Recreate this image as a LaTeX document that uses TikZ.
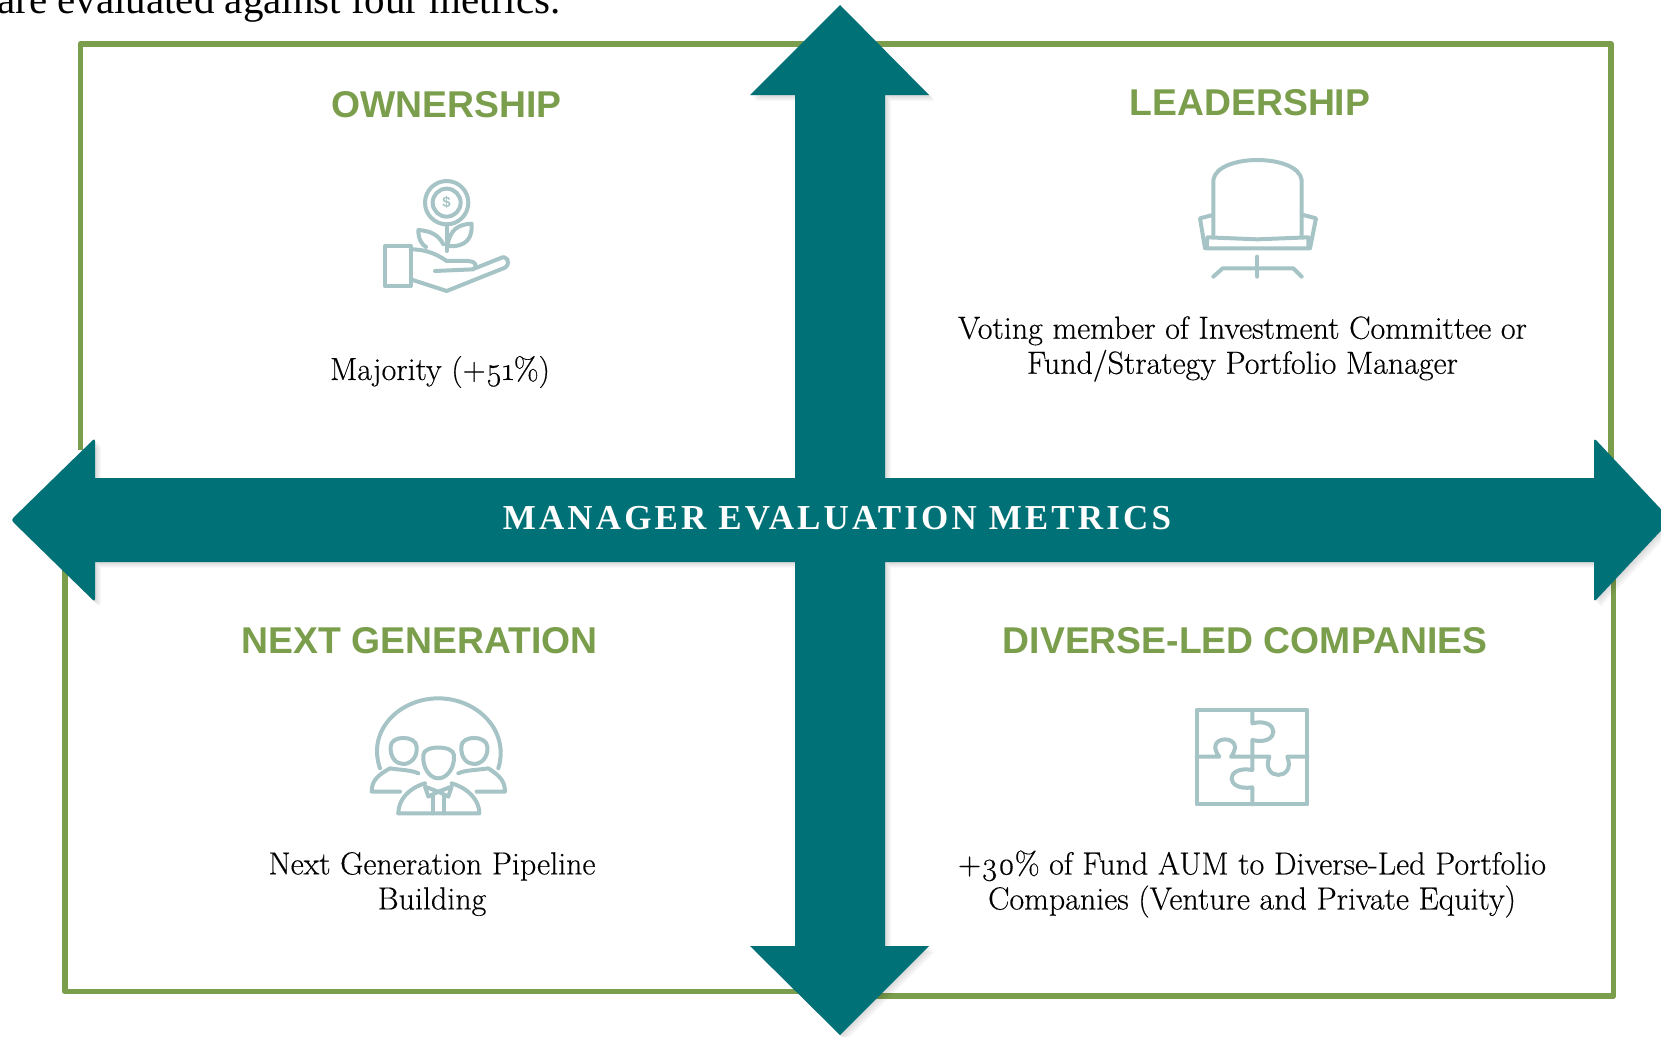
\documentclass[tikz,border=0pt]{standalone}
\usepackage{fontspec}
\usepackage{tikz}
\setmainfont{Liberation Serif}
\newfontfamily\titlefont{Liberation Sans}
\newfontfamily\bodyfont[Numbers=OldStyle,FakeBold=0.35]{Latin Modern Roman}
\newfontfamily\bannerfont[LetterSpace=9]{Liberation Serif}
\definecolor{framegreen}{HTML}{7A9E4B}
\definecolor{crossteal}{HTML}{007176}
\definecolor{iconblue}{HTML}{A6C4C5}
\newcommand{\crossoutline}{(840,5) -- (929,95) -- (885,95) -- (885,478) -- (1594,478) [rounded corners=3pt] -- (1594,438) -- (1671,520) -- (1594,602) [sharp corners] -- (1594,562) -- (885,562) -- (885,946) -- (929,946) -- (840,1035) -- (750,946) -- (795,946) -- (795,562) -- (95,562) [rounded corners=3pt] -- (95,602) -- (11,520) -- (95,438) [sharp corners] -- (95,478) -- (795,478) -- (795,95) -- (750,95) -- cycle}
\tikzset{
  metrictitle/.style={text=framegreen,font=\titlefont\fontsize{37.3}{40}\selectfont\bfseries},
  metrictext/.style={align=center,font=\bodyfont\fontsize{32}{35}\selectfont},
  frameline/.style={draw=framegreen,line width=5.8pt,line join=round},
  iconline/.style={draw=iconblue,line width=4pt,line cap=round,line join=round}
}
\begin{document}
\begin{tikzpicture}[x=1pt,y=-1pt]
    \useasboundingbox (0,0) rectangle (1661,1036);
    \fill[white] (0,0) rectangle (1661,1036);
    \node[anchor=base west,inner sep=0pt,font=\fontsize{41}{44}\selectfont] (intro) at (-3,13) {are evaluated against four metrics.};
    % frame
    \draw[frameline] (80.5,450) -- (80.5,44) -- (1611,44) -- (1611,520) -- (1613.5,520) -- (1613.5,996) -- (840,996) -- (840,991.5) -- (65,991.5) -- (65,560);
    % cross, shadow first
    \foreach \s in {1,2,3,4,5,6} {
      \begin{scope}[shift={(\s,\s)}]
        \fill[black,opacity=0.025] \crossoutline;
      \end{scope}
    }
    \fill[crossteal] \crossoutline;
    \node[text=white,inner sep=0pt,font=\bannerfont\fontsize{35}{36}\selectfont\bfseries] (banner) at (837,518) {MANAGER EVALUATION METRICS};
    % titles
    \node[metrictitle] (ownership) at (446.5,105) {OWNERSHIP};
    \node[metrictitle] (leadership) at (1250,103) {LEADERSHIP};
    \node[metrictitle] (nextgen) at (419.5,641) {NEXT GENERATION};
    \node[metrictitle] (diverse) at (1245,641) {DIVERSE-LED COMPANIES};
    % texts
    \node[metrictext] (majority) at (440,372) {Majority (+51\%)};
    \node[metrictext] (voting) at (1242.5,349) {Voting member of Investment Committee or\\Fund/Strategy Portfolio Manager};
    \node[metrictext] (pipeline) at (432,884) {Next Generation Pipeline\\Building};
    \node[metrictext] (aum) at (1252,884) {+30\% of Fund AUM to Diverse-Led Portfolio\\Companies (Venture and Private Equity)};
    % plant icon
    \begin{scope}[shift={(340,151)},scale=0.3333]
      \draw[iconline] (320,155) circle (65);
      \draw[iconline] (320,155) circle (42);
      \node[text=iconblue,inner sep=0pt,font=\titlefont\fontsize{15}{15}\selectfont\bfseries] (dollar) at (320,155) {\$};
      \draw[iconline] (320,220) to (320,300);
      \draw[iconline] (322,285) .. controls (380,290) and (398,260) .. (395,218) .. controls (355,220) and (330,235) .. (322,285);
      \draw[iconline] (310,280) .. controls (295,250) and (270,240) .. (235,237) .. controls (235,265) and (245,280) .. (258,288);
      \draw[iconline] (135,285) rectangle (212,405);
      \draw[iconline] (212,295) .. controls (250,295) and (285,305) .. (320,330) to (385,330) .. controls (405,330) and (415,345) .. (400,355) to (285,360);
      \draw[iconline] (212,385) to (320,420) to (495,350) .. controls (515,335) and (500,310) .. (480,322) to (405,352);
    \end{scope}
    % chair icon
    \begin{scope}[shift={(1170,140)},scale=0.3333]
      \draw[iconline] (130,285) to (130,120) .. controls (135,80) and (200,60) .. (262,60) .. controls (325,60) and (390,80) .. (395,120) to (395,285);
      \draw[iconline] (112,292) to (262,298) to (415,292) to (415,325) to (110,325) to cycle;
      \draw[iconline] (128,225) to (90,235) to (105,325);
      \draw[iconline] (400,225) to (438,235) to (420,325);
      \draw[iconline] (262,350) to (262,410);
      \draw[iconline] (130,410) to (158,385) to (370,385) to (395,410);
    \end{scope}
    % people icon
    \begin{scope}[shift={(350,680)},scale=0.3333]
      \draw[iconline] (90,265) .. controls (50,150) and (150,55) .. (265,55) .. controls (380,55) and (480,150) .. (445,265);
      \draw[iconline] (220,225) .. controls (220,195) and (310,195) .. (312,225) .. controls (315,265) and (290,295) .. (265,295) .. controls (240,295) and (217,265) .. (220,225);
      \draw[iconline] (122,200) .. controls (122,165) and (198,165) .. (200,200) .. controls (203,235) and (180,252) .. (160,252) .. controls (140,252) and (120,235) .. (122,200);
      \draw[iconline] (334,200) .. controls (334,165) and (410,165) .. (412,200) .. controls (415,235) and (392,252) .. (372,252) .. controls (352,252) and (332,235) .. (334,200);
      \draw[iconline] (205,280) .. controls (185,270) and (150,270) .. (120,265) .. controls (85,285) and (65,300) .. (65,335) to (150,335);
      \draw[iconline] (325,280) .. controls (345,270) and (385,270) .. (415,265) .. controls (445,285) and (465,300) .. (465,335) to (380,335);
      \draw[iconline] (145,400) .. controls (145,360) and (175,325) .. (225,310);
      \draw[iconline] (305,310) .. controls (355,325) and (388,360) .. (388,400) to (145,400);
      \draw[iconline] (225,320) to (265,335) to (305,320) to (295,350) to (265,335) to (235,350) to cycle;
      \draw[iconline] (250,350) to (250,400);
      \draw[iconline] (282,350) to (282,400);
    \end{scope}
    % puzzle icon
    \begin{scope}[shift={(1180,690)},scale=0.3333]
      \draw[iconline] (50,60) rectangle (382,343);
      \draw[iconline] (217,60) to (217,100) .. controls (301,80) and (301,170) .. (217,150) to (217,240) .. controls (134,225) and (134,305) .. (217,292) to (217,343);
      \draw[iconline] (50,200) to (118,200) .. controls (65,131) and (205,131) .. (153,200) to (268,200) .. controls (240,273) and (350,273) .. (322,200) to (382,200);
    \end{scope}
  \end{tikzpicture}
\end{document}
